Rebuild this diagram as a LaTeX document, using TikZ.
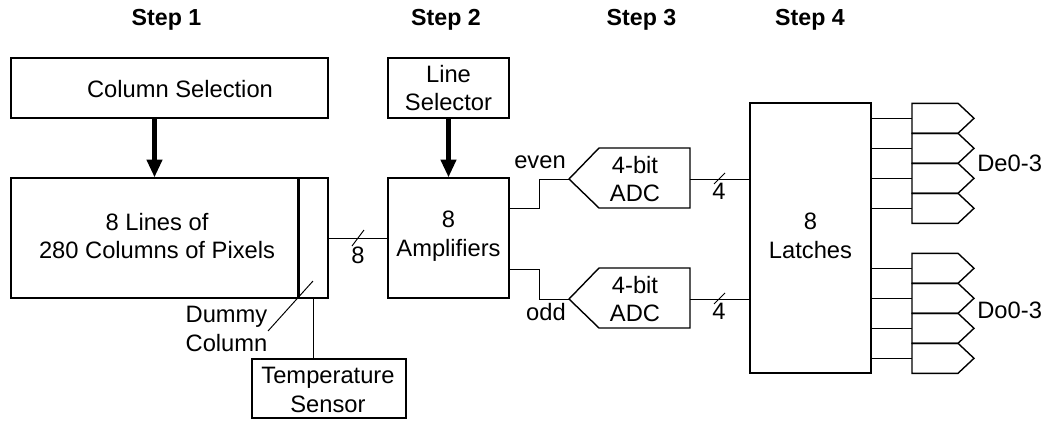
\documentclass[tikz,border=0pt]{standalone}
\usepackage{fontspec}
\setmainfont{Liberation Sans}
\usetikzlibrary{arrows.meta}
\tikzset{
  txt/.style={font=\fontsize{13.5pt}{16.4pt}\selectfont, align=center, inner sep=0pt},
  steplbl/.style={font=\fontsize{13.2pt}{16pt}\selectfont\bfseries, inner sep=0pt},
  blk/.style={draw, line width=0.8pt, rectangle, inner sep=0pt},
  outline/.style={line width=0.8pt, line join=miter},
  wire/.style={line width=0.55pt},
  bigarrow/.style={line width=2.3pt, -{Triangle[length=10pt,width=8.5pt]}},
}
\begin{document}
\begin{tikzpicture}[x=0.02cm,y=-0.02cm]
\useasboundingbox (0,0) rectangle (1052,420);

% step headings
\node[steplbl] (st1) at (166.5,20) {Step 1};
\node[steplbl] (st2) at (446,20) {Step 2};
\node[steplbl] (st3) at (641.5,20) {Step 3};
\node[steplbl] (st4) at (810,20) {Step 4};

% blocks
\node[blk, minimum width=6.34cm, minimum height=1.2cm] (colsel) at (169.5,88) {};
\node[txt] (colseltxt) at (180,89) {Column Selection};
\node[blk, minimum width=5.74cm, minimum height=2.4cm] (pix) at (154.5,238) {};
\node[txt] (pixtxt) at (157,236) {8 Lines of\\280 Columns of Pixels};
\node[blk, minimum width=0.6cm, minimum height=2.4cm] (dum) at (313,238) {};
\draw[line width=1.4pt] (pix.north east) -- (pix.south east);
\node[blk, minimum width=2.42cm, minimum height=1.2cm] (lsel) at (448.5,88) {};
\node[txt] (lseltxt) at (448.5,88) {Line\\Selector};
\node[blk, minimum width=2.42cm, minimum height=2.4cm] (amp) at (448.5,238) {};
\node[txt] (amptxt) at (448.5,236) {8\\Amplifiers};
\node[blk, minimum width=3.08cm, minimum height=1.18cm] (temp) at (329,388.5) {};
\node[txt] (temptxt) at (328,390) {Temperature\\Sensor};
\node[blk, minimum width=2.42cm, minimum height=5.4cm] (latch) at (810.5,238) {};
\node[txt] (latchtxt) at (810.5,236) {8\\Latches};

% thick arrows
\draw[bigarrow] (pix.north |- colsel.south) -- (pix.north);
\draw[bigarrow] (lsel.south) -- (amp.north);

% 8-wide bus
\draw[wire] (dum.east) -- (amp.west);
\coordinate (sl8) at (358,238);
\draw[wire] ([shift={(-6,8)}]sl8) -- ([shift={(6,-8)}]sl8);
\node[txt] (n8) at (358,255) {8};

% dummy column pointer
\coordinate (dumA) at (268,331);
\coordinate (dumB) at (313,281);
\draw[wire] (dumA) -- (dumB);
\node[txt] (dumtxt) at (226.5,329) {Dummy\\Column};

% temperature sensor wire
\draw[wire] (dum.south) -- (dum.south |- temp.north);

% ADCs
\node[txt] (adce) at (635,179) {4-bit\\ADC};
\coordinate (adceIn) at (569,179);
\coordinate (adceOut) at (690,179);
\draw[outline] (adceIn) -- (599,148) -- (690,148) -- (690,208) -- (599,208) -- cycle;
\node[txt] (adco) at (635,299) {4-bit\\ADC};
\coordinate (adcoIn) at (569,299);
\coordinate (adcoOut) at (690,299);
\draw[outline] (adcoIn) -- (599,268) -- (690,268) -- (690,328) -- (599,328) -- cycle;

% amp -> ADC wires
\coordinate (ampEv) at (510,208);
\coordinate (evBend) at (539,179);
\draw[wire] (ampEv) -| (evBend) -- (adceIn);
\node[txt] (evtxt) at (540,162) {even};
\coordinate (ampOd) at (510,269);
\coordinate (odBend) at (539,299);
\draw[wire] (ampOd) -| (odBend) -- (adcoIn);
\node[txt] (odtxt) at (546,312) {odd};

% ADC -> latch buses
\draw[wire] (adceOut) -- (adceOut -| latch.west);
\coordinate (sl4e) at (719,179);
\draw[wire] ([shift={(-5,5)}]sl4e) -- ([shift={(6,-6)}]sl4e);
\node[txt] (n4e) at (719,191) {4};
\draw[wire] (adcoOut) -- (adcoOut -| latch.west);
\coordinate (sl4o) at (719,299);
\draw[wire] ([shift={(-5,5)}]sl4o) -- ([shift={(6,-6)}]sl4o);
\node[txt] (n4o) at (719,311) {4};

% output pentagons
\foreach \i/\t in {1/103.3,2/133.3,3/163.3,4/193.3,5/253.3,6/283.3,7/313.3,8/343.3}{
  \draw[outline] (912,\t) -- (958,\t) -- (974,{\t+15}) -- (958,{\t+30}) -- (912,{\t+30}) -- cycle;
  \coordinate (o\i) at (912,{\t+15});
  \draw[wire] (latch.east |- o\i) -- (o\i);
}
\node[txt, anchor=west] (de) at (977,163) {De0-3};
\node[txt, anchor=west] (do) at (977,310) {Do0-3};
\end{tikzpicture}
\end{document}
